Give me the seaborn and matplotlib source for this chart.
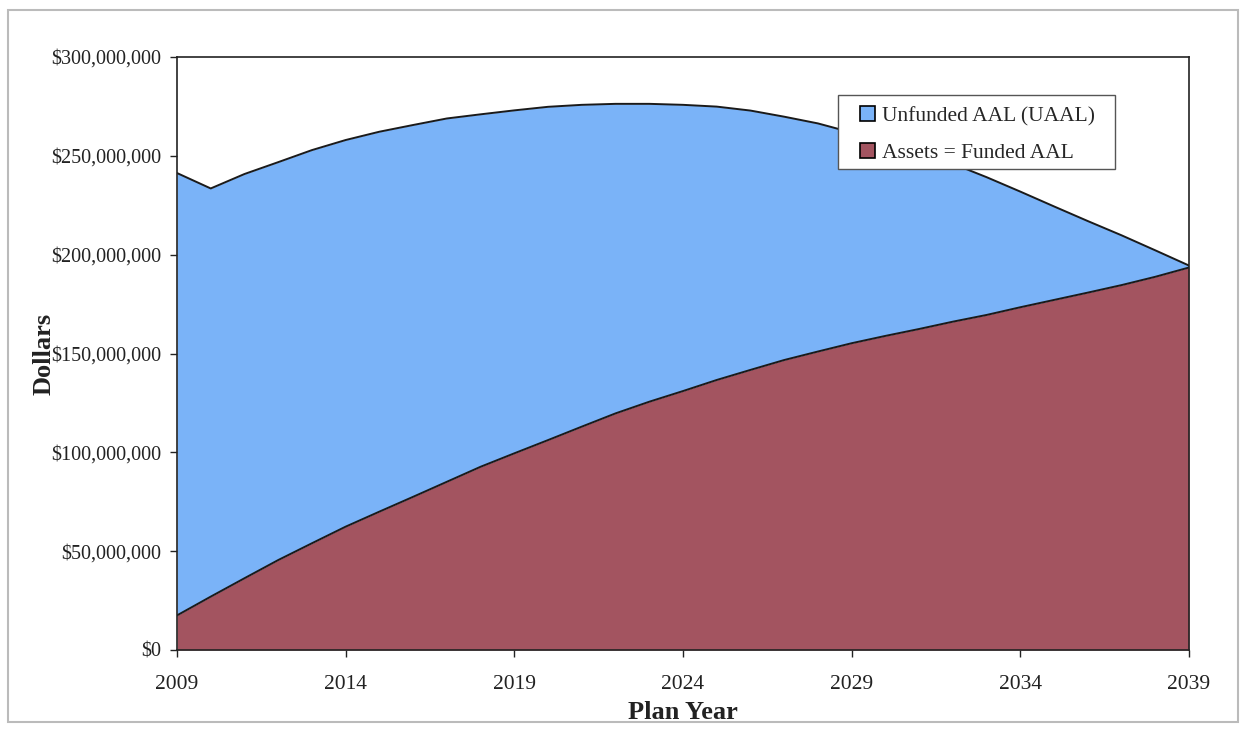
import matplotlib
matplotlib.use("Agg")
import matplotlib.pyplot as plt
from matplotlib.patches import Patch, Rectangle
from matplotlib.ticker import FuncFormatter
import seaborn as sns
import pandas as pd

# plan years and values (millions of dollars)
years = list(range(2009, 2040))
total_aal_m = [241.3, 233.5, 240.8, 246.8, 252.9, 258.0, 262.2, 265.6, 268.9, 271.0,
               273.0, 274.8, 275.8, 276.3, 276.3, 275.8, 274.9, 272.9, 269.8, 266.4,
               261.8, 257.2, 252.0, 246.0, 239.2, 231.9, 224.4, 217.0, 209.8, 202.2,
               194.5]
assets_m = [17.5, 27.0, 36.3, 45.5, 54.0, 62.4, 70.0, 77.5, 85.1, 92.7,
            99.5, 106.2, 113.0, 119.7, 125.6, 131.0, 136.6, 141.7, 146.7, 151.0,
            155.2, 158.9, 162.4, 166.1, 169.5, 173.4, 177.1, 180.8, 184.6, 188.8,
            193.5]
series_labels = ["Unfunded AAL (UAAL)", "Assets = Funded AAL"]

df = pd.DataFrame({"year": years,
                   "total": [v * 1e6 for v in total_aal_m],
                   "assets": [v * 1e6 for v in assets_m]})

sns.set_theme(style="white")
plt.rcParams["font.family"] = ["Liberation Serif", "DejaVu Serif"]

blue = "#7AB3F8"
maroon = "#A35460"

fig = plt.figure(figsize=(12.56, 7.36), dpi=100)
ax = fig.add_axes([177 / 1256, 1 - 650 / 736, (1189 - 177) / 1256, (650 - 57) / 736])

# stacked areas
ax.fill_between(df["year"], 0, df["assets"], color=maroon, lw=0)
ax.fill_between(df["year"], df["assets"], df["total"], color=blue, lw=0)
sns.lineplot(data=df, x="year", y="assets", color="#1a1a1a", lw=1.4, ax=ax)
sns.lineplot(data=df, x="year", y="total", color="#1a1a1a", lw=1.4, ax=ax)

ax.set_xlim(2009, 2039)
ax.set_ylim(0, 300e6)
ax.set_xticks(range(2009, 2040, 5))
ax.set_yticks(range(0, 300000001, 50000000))
ax.yaxis.set_major_formatter(FuncFormatter(lambda v, p: "${:,.0f}".format(v)))
ax.tick_params(axis="x", labelsize=15.5, colors="#222222", length=5, width=1, pad=13, direction="out")
ax.tick_params(axis="y", labelsize=14.5, colors="#222222", length=5, width=1, pad=6.5, direction="out")
ax.tick_params(bottom=True, left=True)
for s in ax.spines.values():
    s.set_color("#222222")
    s.set_linewidth(1.2)

ax.set_xlabel("Plan Year", fontsize=19, fontweight="bold", color="#222222", labelpad=5)
ax.set_ylabel("Dollars", fontsize=19, fontweight="bold", color="#222222", labelpad=-3)

# legend frame drawn separately so the padding matches the original
fig.patches.append(Rectangle((838 / 1256, 1 - 169 / 736), 277 / 1256, 74 / 736,
                             transform=fig.transFigure, facecolor="white",
                             edgecolor="#555555", lw=1.0, zorder=3))
handles = [Patch(facecolor=blue, edgecolor="black", lw=1.2),
           Patch(facecolor=maroon, edgecolor="black", lw=1.2)]
leg = fig.legend(handles, series_labels, loc="upper left",
                 bbox_to_anchor=(860 / 1256, 1 - 106 / 736), bbox_transform=fig.transFigure,
                 fontsize=15.5, frameon=False, handlelength=0.7, handleheight=0.7,
                 handletextpad=0.3, labelspacing=0.8, borderpad=0, borderaxespad=0)
leg.set_zorder(4)

# outer chart frame
fig.patches.append(Rectangle((8 / 1256, 1 - 722 / 736), 1230 / 1256, 712 / 736,
                             transform=fig.transFigure, fill=False,
                             edgecolor="#bbbbbb", lw=1.5))

fig.savefig("out.png", dpi=100)
